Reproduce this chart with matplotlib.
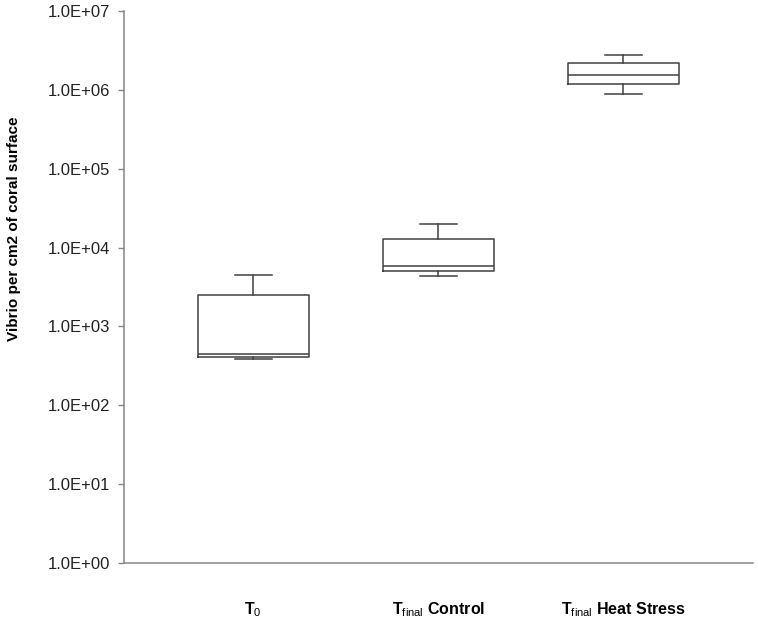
import matplotlib
matplotlib.use("Agg")
import matplotlib.pyplot as plt
from matplotlib.ticker import FuncFormatter

plt.rcParams["font.family"] = ["Liberation Sans", "DejaVu Sans"]
plt.rcParams["mathtext.fontset"] = "custom"
plt.rcParams["mathtext.rm"] = "Liberation Sans"
plt.rcParams["mathtext.bf"] = "Liberation Sans:bold"

# ---------- data ----------
groups = [r"T$_{\mathrm{0}}$", r"T$_{\mathrm{final}}$ Control", r"T$_{\mathrm{final}}$ Heat Stress"]
whis_lo = [385, 4320, 8.95e5]
q1 = [408, 5100, 1.20e6]
med = [441, 5840, 1.54e6]
q3 = [2540, 12800, 2.20e6]
whis_hi = [4540, 19950, 2.80e6]
yticks = [1e0, 1e1, 1e2, 1e3, 1e4, 1e5, 1e6, 1e7]

stats = [dict(label=g, whislo=a, q1=b, med=c, q3=d, whishi=e, fliers=[])
         for g, a, b, c, d, e in zip(groups, whis_lo, q1, med, q3, whis_hi)]

fig = plt.figure(figsize=(7.58, 6.22), dpi=100)
ax = fig.add_axes([124 / 758, 59 / 622, 629 / 758, 552 / 622])

line = dict(color="#404040", linewidth=1.1)
ax.bxp(stats, positions=range(len(groups)), widths=0.6, capwidths=0.2,
       showfliers=False, boxprops=line, whiskerprops=line, capprops=line,
       medianprops=line)

ax.set_yscale("log")
ax.set_ylim(1e0, 1e7)
ax.set_xlim(-0.697, 2.70)
ax.set_yticks(yticks)
ax.yaxis.set_minor_locator(plt.NullLocator())
ax.yaxis.set_major_formatter(FuncFormatter(lambda v, p: f"{v:.1E}"))
ax.tick_params(axis="y", direction="out", length=4, width=1, color="#868686",
               labelsize=12, labelcolor="#222222", pad=6)
ax.tick_params(axis="x", length=0, labelsize=11.5, pad=27)
for t in ax.get_xticklabels():
    t.set_fontweight("bold")

for s in ("top", "right"):
    ax.spines[s].set_visible(False)
for s in ("left", "bottom"):
    ax.spines[s].set_color("#868686")
    ax.spines[s].set_linewidth(1.1)

fig.text(14 / 758, 1 - 229 / 622, "Vibrio per cm2 of coral surface", rotation=90,
         ha="center", va="center", fontsize=11, fontweight="bold")

fig.savefig("out.png", dpi=100)
